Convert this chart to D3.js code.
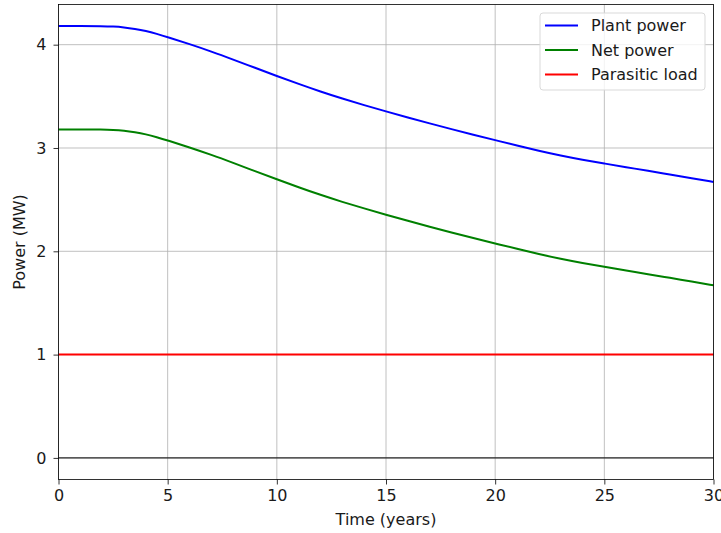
<!DOCTYPE html>
<html>
<head>
<meta charset="utf-8">
<script src="https://cdn.jsdelivr.net/npm/d3@7"></script>
<style>
	body { margin: 0; background: #fff; }
	svg { display: block; font-family: "DejaVu Sans", sans-serif; }
</style>
</head>
<body>
<div id="chart"></div>
<script>
// values
const years = [0, 1, 2, 2.5, 3, 3.5, 4, 4.5, 5, 6, 7, 8, 9, 10, 11, 12, 13, 14, 15, 16, 17, 18, 19, 20, 21, 22, 23, 24, 25, 26, 27, 28, 29, 30];
const plantPower = [4.18, 4.18, 4.179, 4.176, 4.168, 4.153, 4.133, 4.105, 4.073, 4.006, 3.934, 3.856, 3.776, 3.697, 3.62, 3.546, 3.478, 3.415, 3.354, 3.295, 3.238, 3.182, 3.128, 3.076, 3.024, 2.973, 2.927, 2.886, 2.85, 2.814, 2.779, 2.743, 2.707, 2.671];
const netPower = [3.18, 3.18, 3.179, 3.176, 3.168, 3.153, 3.133, 3.105, 3.073, 3.006, 2.934, 2.856, 2.776, 2.697, 2.62, 2.546, 2.478, 2.415, 2.354, 2.295, 2.238, 2.182, 2.128, 2.076, 2.024, 1.973, 1.927, 1.886, 1.85, 1.814, 1.779, 1.743, 1.707, 1.671];
const parasiticLoad = [1, 1, 1, 1, 1, 1, 1, 1, 1, 1, 1, 1, 1, 1, 1, 1, 1, 1, 1, 1, 1, 1, 1, 1, 1, 1, 1, 1, 1, 1, 1, 1, 1, 1];
const seriesNames = ["Plant power", "Net power", "Parasitic load"];
const seriesColors = ["#0000ff", "#008000", "#ff0000"];
const xTicks = [0, 5, 10, 15, 20, 25, 30];
const yTicks = [0, 1, 2, 3, 4];

function chart() {
	const width = 721;
	const height = 533;
	const margin = {left: 58.5, right: 7.5, top: 4.5, bottom: 53.5};
	const fontSize = "16px";

	const xScale = d3.scaleLinear()
		.domain([0, 30])
		.range([margin.left, width - margin.right]);

	const yScale = d3.scaleLinear()
		.domain([-0.209, 4.389])
		.range([height - margin.bottom, margin.top]);

	const svg = d3.select("#chart")
		.append("svg")
		.attr("width", width)
		.attr("height", height);

	// grid
	svg.append("g")
		.selectAll("line")
		.data(xTicks)
		.enter()
		.append("line")
		.attr("x1", d => xScale(d)).attr("x2", d => xScale(d))
		.attr("y1", margin.top).attr("y2", height - margin.bottom)
		.attr("stroke", "#b0b0b0").attr("stroke-width", 0.8);

	svg.append("g")
		.selectAll("line")
		.data(yTicks)
		.enter()
		.append("line")
		.attr("y1", d => yScale(d)).attr("y2", d => yScale(d))
		.attr("x1", margin.left).attr("x2", width - margin.right)
		.attr("stroke", "#b0b0b0").attr("stroke-width", 0.8);

	// black line at zero
	svg.append("line")
		.attr("x1", margin.left).attr("x2", width - margin.right)
		.attr("y1", yScale(0)).attr("y2", yScale(0))
		.attr("stroke", "#000").attr("stroke-width", 1);

	const series = [plantPower, netPower, parasiticLoad];
	const line = d3.line()
		.x((d, i) => xScale(years[i]))
		.y(d => yScale(d))
		.curve(d3.curveBasis);

	svg.append("g")
		.selectAll("path")
		.data(series)
		.enter()
		.append("path")
		.attr("d", d => line(d))
		.attr("fill", "none")
		.attr("stroke", (d, i) => seriesColors[i])
		.attr("stroke-width", 2);

	// axes
	const xAxis = svg.append("g")
		.attr("transform", `translate(0,${height - margin.bottom})`)
		.call(d3.axisBottom(xScale).tickValues(xTicks).tickFormat(d3.format("d")).tickSize(5).tickPadding(5));
	const yAxis = svg.append("g")
		.attr("transform", `translate(${margin.left},0)`)
		.call(d3.axisLeft(yScale).tickValues(yTicks).tickFormat(d3.format("d")).tickSize(5).tickPadding(7));

	[xAxis, yAxis].forEach(a => {
		a.select(".domain").remove();
		a.selectAll("line").attr("stroke", "#000").attr("stroke-width", 0.8);
		a.selectAll("text")
			.attr("font-family", "DejaVu Sans, sans-serif")
			.attr("font-size", fontSize)
			.attr("fill", "#1a1a1a");
	});

	// frame
	svg.append("rect")
		.attr("x", margin.left).attr("y", margin.top)
		.attr("width", width - margin.left - margin.right)
		.attr("height", height - margin.top - margin.bottom)
		.attr("fill", "none")
		.attr("stroke", "#000")
		.attr("stroke-width", 0.8);

	svg.append("text")
		.text("Time (years)")
		.attr("x", (margin.left + width - margin.right) / 2)
		.attr("y", 525)
		.attr("text-anchor", "middle")
		.attr("font-size", fontSize)
		.attr("fill", "#1a1a1a");

	svg.append("text")
		.text("Power (MW)")
		.attr("transform", `translate(25,${(margin.top + height - margin.bottom) / 2}) rotate(-90)`)
		.attr("text-anchor", "middle")
		.attr("font-size", fontSize)
		.attr("fill", "#1a1a1a");

	// legend
	const legend = svg.append("g").attr("transform", "translate(540,13)");
	legend.append("rect")
		.attr("width", 165).attr("height", 77)
		.attr("rx", 3)
		.attr("fill", "#fff").attr("fill-opacity", 0.8)
		.attr("stroke", "#d9d9d9").attr("stroke-width", 1);

	const items = legend.selectAll("g.item")
		.data(seriesNames)
		.enter()
		.append("g")
		.attr("class", "item")
		.attr("transform", (d, i) => `translate(0,${12.5 + i * 24.5})`);
	items.append("line")
		.attr("x1", 5).attr("x2", 38)
		.attr("stroke", (d, i) => seriesColors[i])
		.attr("stroke-width", 2);
	items.append("text")
		.text(d => d)
		.attr("x", 51)
		.attr("dy", "0.35em")
		.attr("font-size", fontSize)
		.attr("fill", "#1a1a1a");
}

chart();
</script>
</body>
</html>
